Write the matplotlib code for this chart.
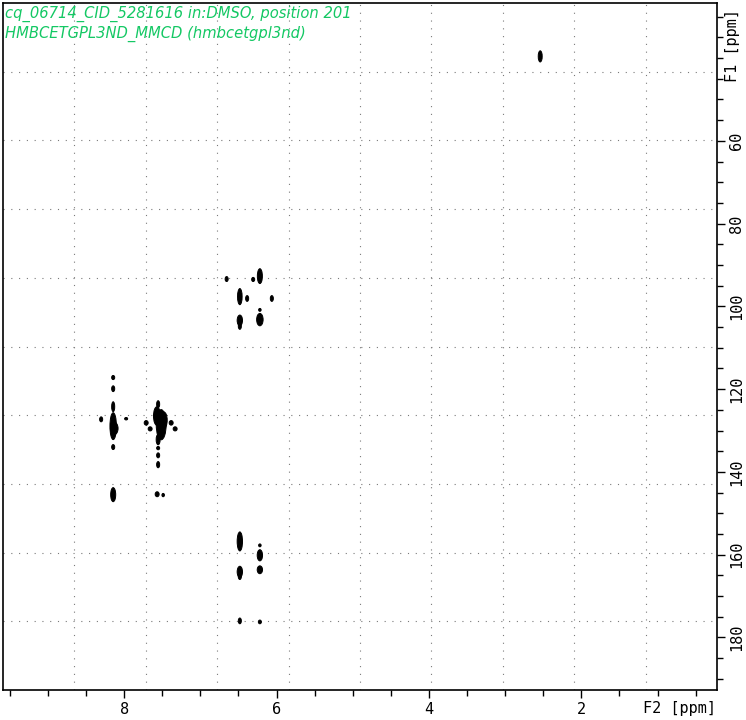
import matplotlib
matplotlib.use('Agg')
import matplotlib.pyplot as plt
from matplotlib.patches import Ellipse
from matplotlib.ticker import MultipleLocator, FixedLocator
import numpy as np

title_lines = ["cq_06714_CID_5281616 in:DMSO, position 201",
               "HMBCETGPL3ND_MMCD (hmbcetgpl3nd)"]

# Cross peaks: F2 (1H, ppm) centre, F1 (13C, ppm) centre, F2 extent, F1 extent (ppm)
peak_f2 = [2.54, 6.655, 6.307, 6.219, 6.482, 6.386, 6.062, 6.482, 6.219, 6.219,
           8.144, 8.144, 8.144, 8.144, 8.144, 8.302, 7.974, 8.144,
           7.554, 7.514, 7.554, 7.554, 7.554, 7.554,
           7.711, 7.659, 7.383, 7.331, 7.567, 7.488,
           6.482, 6.219, 6.219, 6.482, 6.219, 6.482, 6.219,
           7.48, 7.57, 8.13, 6.482, 6.482]
peak_f1 = [39.6, 93.4, 93.5, 92.7, 97.65, 98.1, 98.1, 103.4, 100.85, 103.2,
           117.2, 119.9, 124.25, 128.95, 134.0, 127.3, 127.15, 145.5,
           123.65, 128.6, 132.2, 134.25, 136.0, 138.25,
           128.15, 129.6, 128.15, 129.6, 145.4, 145.6,
           156.8, 157.75, 160.15, 164.15, 163.65, 176.0, 176.25,
           127.5, 126.5, 129.5, 104.8, 165.3]
peak_w = [0.052, 0.04, 0.04, 0.066, 0.06, 0.04, 0.04, 0.07, 0.033, 0.085,
          0.04, 0.04, 0.04, 0.085, 0.04, 0.04, 0.04, 0.066,
          0.04, 0.13, 0.052, 0.04, 0.04, 0.04,
          0.052, 0.052, 0.052, 0.052, 0.052, 0.033,
          0.07, 0.033, 0.07, 0.07, 0.07, 0.04, 0.04,
          0.09, 0.09, 0.1, 0.04, 0.04]
peak_h = [2.7, 1.2, 1.0, 3.6, 3.9, 1.4, 1.4, 2.6, 0.7, 3.0,
          1.0, 1.4, 2.4, 6.5, 1.2, 1.2, 0.6, 3.4,
          1.7, 7.3, 2.5, 0.8, 1.2, 1.5,
          1.1, 1.0, 1.1, 1.0, 1.2, 0.8,
          4.6, 0.7, 2.7, 2.7, 1.9, 1.4, 0.9,
          4.0, 4.5, 3.0, 1.5, 1.4]

f2_lim = (9.59, 0.22)
f1_lim = (26.7, 192.7)
x_major = [8, 6, 4, 2]
y_major = [60, 80, 100, 120, 140, 160, 180]

fig = plt.figure(figsize=(7.46, 7.2), dpi=100)
ax = fig.add_axes([3/746, 30/720, 714/746, 687/720])
ax.set_xlim(*f2_lim)
ax.set_ylim(f1_lim[1], f1_lim[0])

for x, y, w, h in zip(peak_f2, peak_f1, peak_w, peak_h):
    ax.add_patch(Ellipse((x, y), w, h, facecolor='black', edgecolor='black', lw=0.7))

# fixed 10x10 display grid
for f in np.arange(1, 10) / 10:
    ax.plot([f, f], [0, 1], transform=ax.transAxes, color='#7a7a7a',
            lw=0.8, ls=(0, (1, 6)), zorder=0)
    ax.plot([0, 1], [f, f], transform=ax.transAxes, color='#7a7a7a',
            lw=0.8, ls=(0, (1, 6)), zorder=0)

tickfont = dict(family='DejaVu Sans Mono', size=11)
ax.xaxis.set_major_locator(FixedLocator(x_major))
ax.xaxis.set_minor_locator(MultipleLocator(0.5))
ax.yaxis.set_major_locator(FixedLocator(y_major))
ax.yaxis.set_minor_locator(MultipleLocator(5))
ax.yaxis.tick_right()
ax.set_xticklabels([str(v) for v in x_major], **tickfont)
ax.set_yticklabels([str(v) for v in y_major], rotation=90, va='center', **tickfont)
ax.tick_params(which='major', direction='out', length=6, width=1.0, pad=3, color='black')
ax.tick_params(which='minor', direction='out', length=4.5, width=1.0, color='black')
ax.tick_params(axis='y', which='both', left=False, right=True)
ax.tick_params(axis='x', which='both', top=False, bottom=True)
for s in ax.spines.values():
    s.set_linewidth(1.2)

ax.text(0.998, -0.027, "F2 [ppm]", transform=ax.transAxes, ha='right', va='center',
        **tickfont)
ax.text(1.022, 0.938, "F1 [ppm]", transform=ax.transAxes, ha='center', va='center',
        rotation=90, **tickfont)

green = '#14c864'
fig.text(5/746, 1 - 14/720, title_lines[0], color=green, style='italic',
         fontsize=10.6, family='DejaVu Sans', va='center', ha='left')
fig.text(5/746, 1 - 34/720, title_lines[1], color=green, style='italic',
         fontsize=10.6, family='DejaVu Sans', va='center', ha='left')

fig.savefig('out.png', dpi=100)
